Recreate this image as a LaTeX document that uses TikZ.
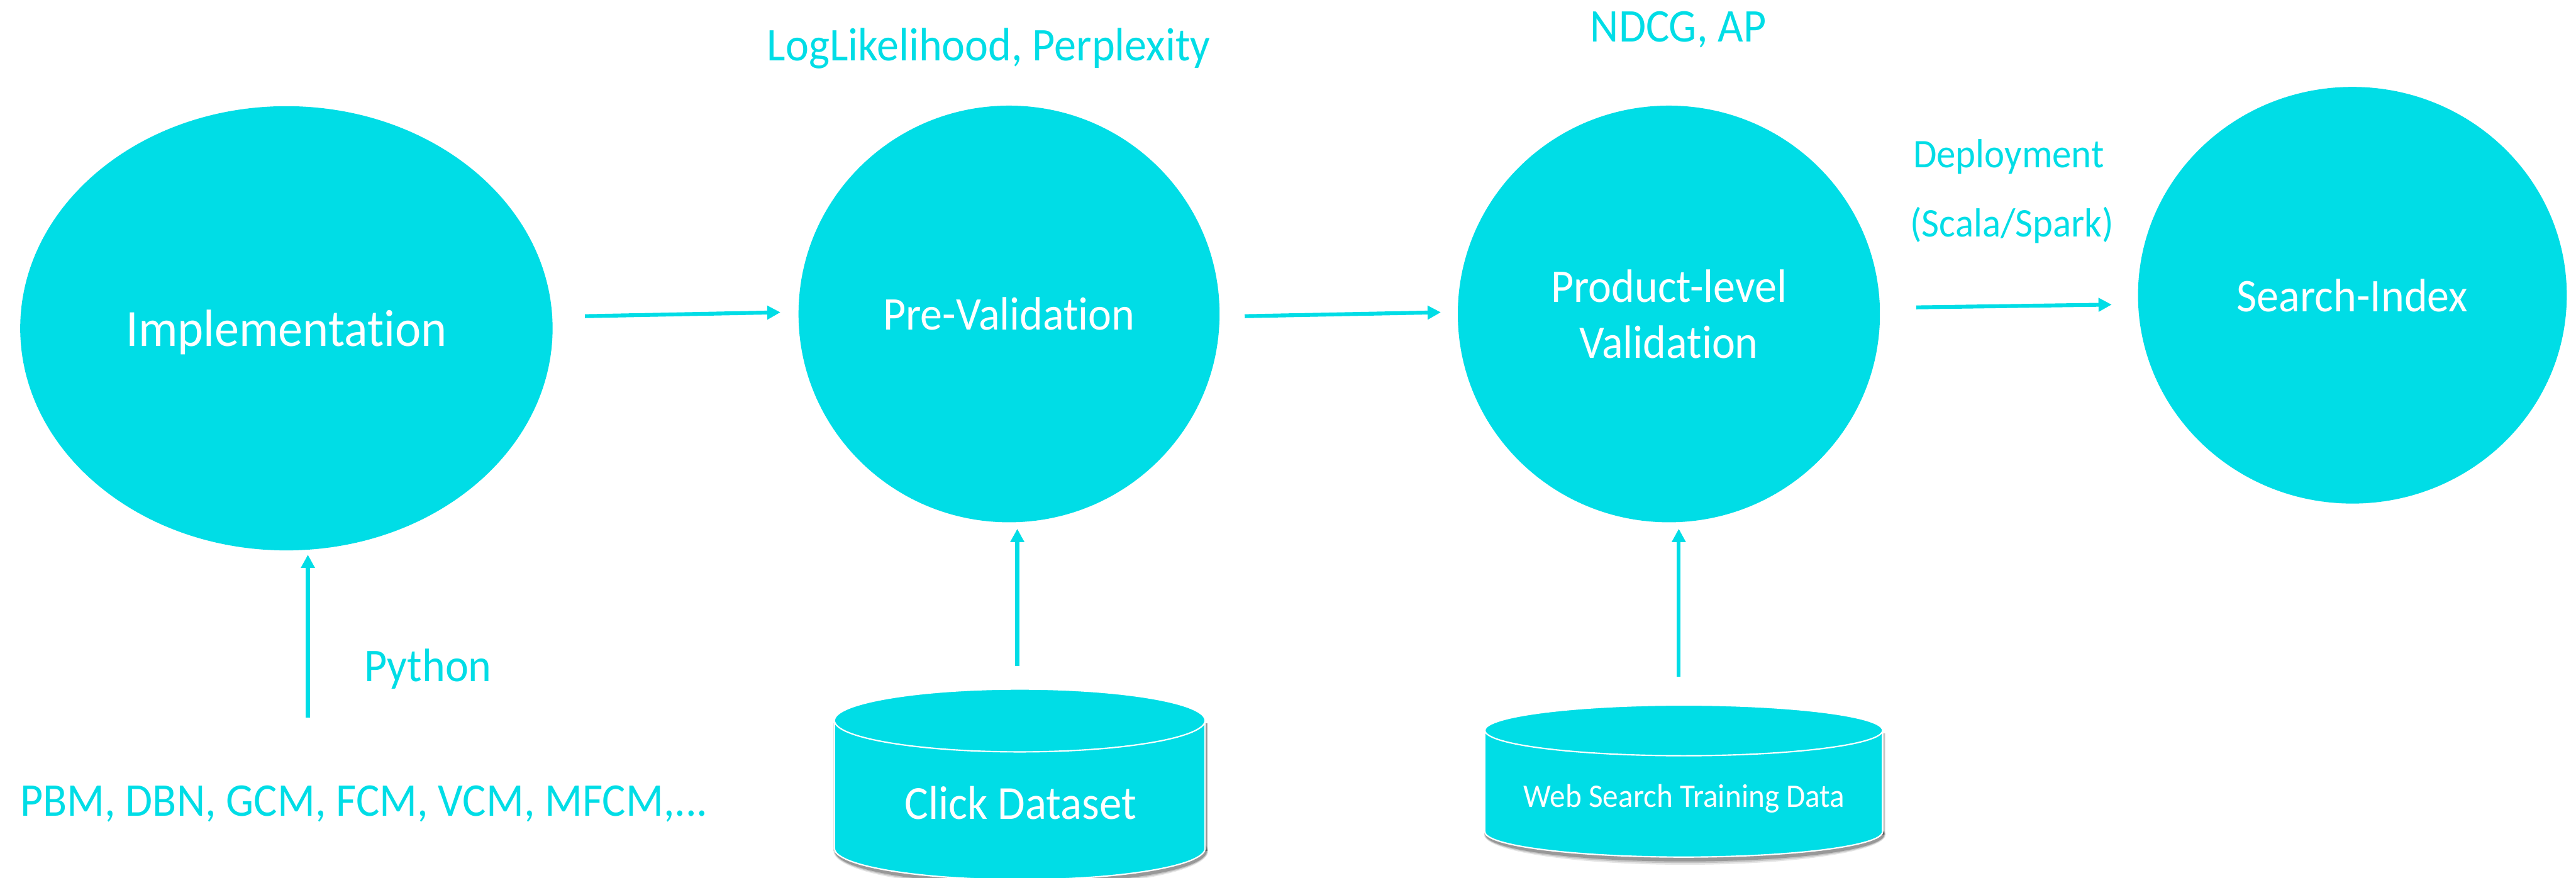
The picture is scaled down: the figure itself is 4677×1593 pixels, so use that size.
\documentclass[tikz,border=0pt]{standalone}
\usepackage{fontspec}
\setmainfont{Carlito}[FakeStretch=0.94,Ligatures=NoCommon]
\usetikzlibrary{shapes.geometric,arrows.meta}
\definecolor{aqua}{RGB}{0,221,230}

% Database cylinder: #1 centre x, #2 x radius, #3 top centre y, #4 base centre y, #5 y radius
\newcommand\drawdb[5]{%
  \foreach \s/\o in {9/0.10,6/0.14,3/0.22}{%
    \fill[black,opacity=\o] (#1+2,#4+5) ellipse [x radius=#2+\s*0.4, y radius=#5+\s];
    \fill[black,opacity=\o] (#1-#2+2-\s*0.4,#3+5) rectangle (#1+#2+2+\s*0.4,#4+5);
  }
  \fill[aqua] (#1,#4) ellipse [x radius=#2, y radius=#5];
  \draw[white,line width=0.7pt] (#1,#4) ellipse [x radius=#2, y radius=#5];
  \fill[aqua] (#1-#2,#3) rectangle (#1+#2,#4);
  \draw[white,line width=0.7pt] (#1-#2,#3) -- (#1-#2,#4) (#1+#2,#3) -- (#1+#2,#4);
  \fill[aqua] (#1,#3) ellipse [x radius=#2, y radius=#5];
  \draw[white,line width=0.7pt] (#1,#3) ellipse [x radius=#2, y radius=#5];
}

\begin{document}
\begin{tikzpicture}[x=0.01cm,y=-0.01cm,
  stage/.style={ellipse, fill=aqua, inner sep=0pt, text=white,
    font=\fontsize{24.2}{28.7}\selectfont},
  note/.style={anchor=base, inner sep=0pt, text=aqua,
    font=\fontsize{24.2}{29}\selectfont},
  dbtext/.style={anchor=base, inner sep=0pt, text=white},
  flow/.style={draw=aqua, line width=2pt,
    -{Triangle[length=0.24cm,width=0.24cm]}}]
\useasboundingbox (0,0) rectangle (4677,1593);
\fill[white] (0,0) rectangle (4677,1593);

% pipeline stages
\node[stage, minimum width=9.66cm, minimum height=8.06cm, text depth=0pt,
  font=\fontsize{27}{32}\selectfont] (impl) at (520,596) {Implementation};
\node[stage, minimum width=7.64cm, minimum height=7.56cm] (prev) at (1832,570) {Pre-Validation};
\node[stage, minimum width=7.66cm, minimum height=7.56cm, align=center] (prod) at (3030,570) {Product-level\\Validation};
\node[stage, minimum width=7.78cm, minimum height=7.56cm] (idx) at (4271,536) {Search-Index};

% data sources
\drawdb{1851.5}{336.5}{1308}{1540}{57}
\drawdb{3057}{361}{1326}{1510}{46}
\node[dbtext, font=\fontsize{24.5}{29}\selectfont] (click) at (1853,1487) {Click Dataset};
\node[dbtext, font=\fontsize{17}{20}\selectfont] (web) at (3058,1465) {Web Search Training Data};

% annotations
\node[note] (metricsA) at (1795,110) {LogLikelihood, Perplexity};
\node[note] (metricsB) at (3047,76) {NDCG, AP};
\node[note, font=\fontsize{21}{25}\selectfont] (deploy) at (3647,304) {Deployment};
\node[note, font=\fontsize{21}{25}\selectfont] (tools) at (3653,430) {(Scala/Spark)};
\node[note] (python) at (777,1237) {Python};
\node[note] (models) at (661,1481) {PBM, DBN, GCM, FCM, VCM, MFCM,...};

% connector end points
\coordinate (f1s) at (1062,574); \coordinate (f1e) at (1417,567);
\coordinate (f2s) at (2260,574); \coordinate (f2e) at (2616,567);
\coordinate (f3s) at (3479,558); \coordinate (f3e) at (3834,553);
\coordinate (u1s) at (559,1303); \coordinate (u1e) at (559,1007);
\coordinate (u2s) at (1847,1209); \coordinate (u2e) at (1847,960);
\coordinate (u3s) at (3048,1229); \coordinate (u3e) at (3048,960);

\draw[flow] (f1s) -- (f1e);
\draw[flow] (f2s) -- (f2e);
\draw[flow] (f3s) -- (f3e);
\draw[flow] (u1s) -- (u1e);
\draw[flow] (u2s) -- (u2e);
\draw[flow] (u3s) -- (u3e);
\end{tikzpicture}
\end{document}
